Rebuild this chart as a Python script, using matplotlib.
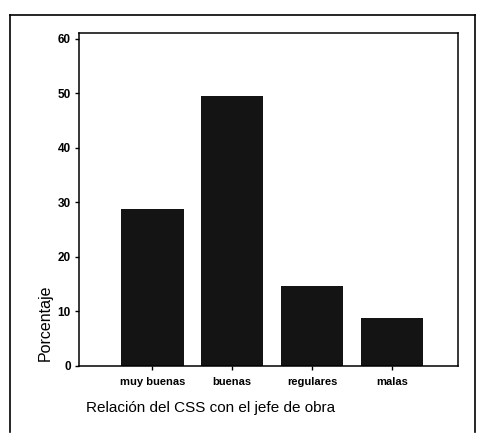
import matplotlib
matplotlib.use("Agg")
import matplotlib.pyplot as plt
from matplotlib.lines import Line2D

plt.rcParams['font.family'] = ['Liberation Sans', 'DejaVu Sans']

categorias = ["muy buenas", "buenas", "regulares", "malas"]
porcentaje = [28.8, 49.5, 14.6, 8.8]
yticks = [0, 10, 20, 30, 40, 50, 60]

W, H = 481, 434
fig = plt.figure(figsize=(W / 100, H / 100), dpi=100)

# axes box in pixels: left 79, right 458, top 33, bottom 366
ax = fig.add_axes([79 / W, 1 - 366 / H, (458 - 79) / W, (366 - 33) / H])
ax.bar(range(len(categorias)), porcentaje, width=0.78, color='#141414')
ax.set_xlim(-0.92, 3.83)
ax.set_ylim(0, 61.1)
ax.set_yticks(yticks)
ax.set_yticklabels([str(t) for t in yticks], fontsize=8.5, fontweight='bold')
ax.set_xticks(range(len(categorias)))
ax.set_xticklabels(categorias, fontsize=8, fontweight='bold')
ax.tick_params(axis='both', length=3, width=1, pad=3)
ax.tick_params(axis='x', pad=5)
for s in ax.spines.values():
    s.set_linewidth(1.1)

ax.set_ylabel("Porcentaje", fontsize=11.5)
ax.yaxis.set_label_coords(-0.07, 0.13)

fig.text(86 / W, 1 - 408 / H, "Relación del CSS con el jefe de obra",
         fontsize=11, va='center', ha='left')

# outer frame of the scanned figure
x0, x1, y0, y1 = 10 / W, 475 / W, 1 - 15 / H, 1 - 432 / H
for xs, ys in [([x0, x1], [y0, y0]), ([x0, x0], [y0, y1]), ([x1, x1], [y0, y1])]:
    fig.add_artist(Line2D(xs, ys, color='black', lw=1.2, transform=fig.transFigure))

fig.savefig("out.png", dpi=100)
